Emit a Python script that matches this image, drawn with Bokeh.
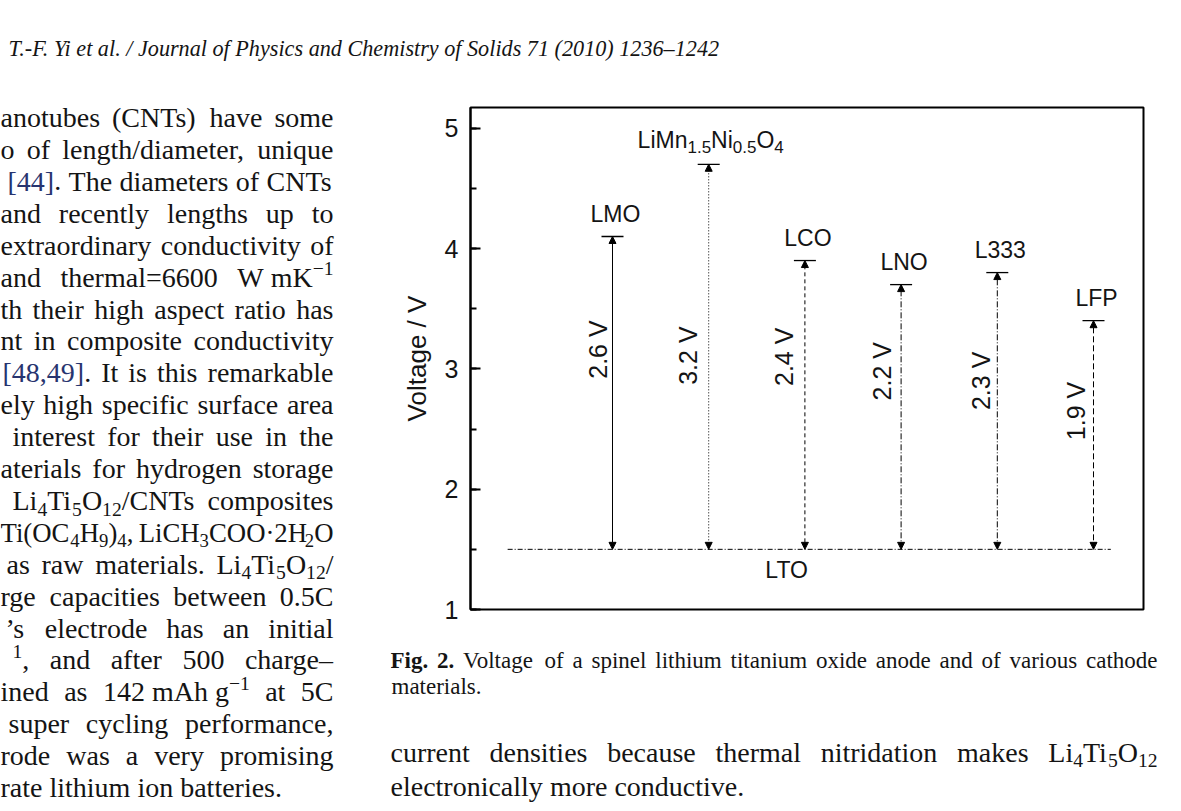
import math
import re
from collections import defaultdict
from bokeh.plotting import figure
from bokeh.layouts import column, row
from bokeh.models import Range1d, SingleIntervalTicker, Arrow, NormalHead
from bokeh.core.properties import value
from bokeh.embed import file_html
from bokeh.resources import INLINE

# ---------------- chart data ----------------
materials = ["LMO", "LiMn1.5Ni0.5O4", "LCO", "LNO", "L333", "LFP"]
cathode_voltage = [4.1, 4.7, 3.9, 3.7, 3.8, 3.4]
lto_voltage = 1.5
diff_label_voltage = [3.16, 3.11, 3.10, 2.98, 2.90, 2.65]
diff_label_dx = [-15, -21, -21, -19, -16, -18]
line_dashes = ["solid", "1 2", "4 3", "6 2 1 2", "6 2 1 2", "6 3"]
lto_extent = [-1.09, 5.18]
lto_label_pos = [1.81, 1.27]
y_ticks_interval = 1

positions = list(range(len(materials)))
diffs = [f"{v - lto_voltage:.1f} V" for v in cathode_voltage]

formula_parts = [("LiMn", "main"), ("1.5", "sub"), ("Ni", "main"),
                 ("0.5", "sub"), ("O", "main"), ("4", "sub")]

# ---------------- page text (markup: _{sub}, ^{sup}) ----------------
header = "T.-F. Yi et al. / Journal of Physics and Chemistry of Solids 71 (2010) 1236\u20131242"
NB = "\u00a0"
left_col = [
    (0, "anotubes (CNTs) have some"),
    (0, "o of length/diameter, unique"),
    (7, "[44]. The diameters of CNTs"),
    (0, "and recently lengths up to"),
    (0, "extraordinary conductivity of"),
    (0, "and thermal=6600 W" + NB + "mK^{\u22121}"),
    (0, "th their high aspect ratio has"),
    (0, "nt in composite conductivity"),
    (2, "[48,49]. It is this remarkable"),
    (0, "ely high specific surface area"),
    (12, "interest for their use in the"),
    (0, "aterials for hydrogen storage"),
    (12, "Li_{4}Ti_{5}O_{12}/CNTs composites"),
    (0, "Ti(OC_{4}H_{9})_{4}, LiCH_{3}COO\u00b72H_{2}O"),
    (6, "as raw materials. Li_{4}Ti_{5}O_{12}/"),
    (0, "rge capacities between 0.5C"),
    (5, "\u2019s electrode has an initial"),
    (12, "^{1}, and after 500 charge\u2013"),
    (0, "ined as 142" + NB + "mAh" + NB + "g^{\u22121} at 5C"),
    (8, "super cycling performance,"),
    (0, "rode was a very promising"),
    (0, "rate lithium ion batteries."),
]
caption_line1 = "Fig. 2. Voltage of a spinel lithium titanium oxide anode and of various cathode"
caption_bold_words = 2
caption_line2 = "materials."
body_line1 = "current densities because thermal nitridation makes Li_{4}Ti_{5}O_{12}"
body_line2 = "electronically more conductive."

SANS = "Liberation Sans"
SERIF = "Liberation Serif"
INK = "#141414"
BLUE = "#27346f"
BL = 0.3   # renderer places the alphabetic baseline this many ems below the anchor

# Times/Liberation Serif advance widths (per 1000 em)
TNR = {" ": 250, NB: 250, "(": 333, ")": 333, ",": 250, "-": 333, ".": 250,
       "/": 278, ":": 278, "=": 564, "[": 333, "]": 333, "\u00b7": 250,
       "\u2013": 500, "\u2019": 333, "\u2212": 564,
       "A": 722, "B": 667, "C": 667, "D": 722, "E": 611, "F": 556, "G": 722,
       "H": 722, "I": 333, "J": 389, "K": 722, "L": 611, "M": 889, "N": 722,
       "O": 722, "P": 556, "Q": 722, "R": 667, "S": 556, "T": 611, "U": 722,
       "V": 722, "W": 944, "X": 722, "Y": 722, "Z": 611,
       "a": 444, "b": 500, "c": 444, "d": 500, "e": 444, "f": 333, "g": 500,
       "h": 500, "i": 278, "j": 278, "k": 500, "l": 278, "m": 778, "n": 500,
       "o": 500, "p": 500, "q": 500, "r": 333, "s": 389, "t": 278, "u": 500,
       "v": 500, "w": 722, "x": 500, "y": 500, "z": 444}
for d in "0123456789":
    TNR[d] = 500
TNR_B = dict(TNR, F=611)
SCALE = {"n": 1.0, "ref": 1.0, "sub": 0.7, "sup": 0.7}
DY = {"n": 0.0, "ref": 0.0, "sub": 0.22, "sup": -0.40}
TOKEN = re.compile(r"_\{([^}]*)\}|\^\{([^}]*)\}|([^_^]+)")

# ---------------- page geometry ----------------
PAGE_W, PAGE_H = 1165, 808
HEAD_H = 99
LEFT_W = 390
CHART_H = 530
FRAME_L, FRAME_T, FRAME_W, FRAME_H = 80, 8, 673, 502
PX_PER_V = 120.33
PX_PER_X = 96.2
FIRST_X_PX = 142
XA = -FIRST_X_PX / PX_PER_X
XB = XA + FRAME_W / PX_PER_X
YA = 1.0
YB = YA + FRAME_H / PX_PER_V


def text_fig(w, h, x0, y0):
    f = figure(width=w, height=h, x_range=Range1d(x0, x0 + w), y_range=Range1d(y0 + h, y0),
               output_backend="svg", toolbar_location=None,
               x_axis_type=None, y_axis_type=None, min_border=0)
    f.grid.grid_line_color = None
    f.outline_line_color = None
    f.background_fill_color = "white"
    f.border_fill_color = "white"
    return f


batches = defaultdict(lambda: {"x": [], "y": [], "text": []})
fig_of = {}


def segments(word):
    out = []
    for m in TOKEN.finditer(word):
        if m.group(1) is not None:
            out.append((m.group(1), "sub"))
        elif m.group(2) is not None:
            out.append((m.group(2), "sup"))
        else:
            for piece in re.split(r"(\[[\d,]+\])", m.group(3)):
                if piece:
                    out.append((piece, "ref" if piece.startswith("[") else "n"))
    return out


def seg_w(txt, size, table):
    return sum(table.get(c, 500) for c in txt) / 1000 * size


def word_w(word, size, style="normal"):
    table = TNR_B if style == "bold" else TNR
    return sum(seg_w(t, size * SCALE[k], table) for t, k in segments(word))


def draw_word(f, word, x, y, size, style="normal", font=SERIF):
    table = TNR_B if style == "bold" else TNR
    for t, k in segments(word):
        s = size * SCALE[k]
        color = BLUE if k == "ref" else INK
        key = (id(f), round(s, 2), style, color, font)
        fig_of[key] = f
        b = batches[key]
        b["x"].append(x)
        b["y"].append(y + DY[k] * size - BL * s)
        b["text"].append(t)
        x += seg_w(t, s, table)
    return x


def justify(f, words, left, right, y, size, styles=None):
    styles = styles or ["normal"] * len(words)
    n_gaps = max(len(words) - 1, 1)
    natural = sum(word_w(w, size, s) for w, s in zip(words, styles))
    need = natural + 0.2 * size * n_gaps
    if need > right - left:
        size *= (right - left) / need
    widths = [word_w(w, size, s) for w, s in zip(words, styles)]
    gap = (right - left - sum(widths)) / n_gaps
    x = left
    for w, s, wd in zip(words, styles, widths):
        draw_word(f, w, x, y, size, s)
        x += wd + gap


def plain(f, line, left, y, size):
    x = left
    for w in line.split(" "):
        x = draw_word(f, w, x, y, size) + TNR[" "] / 1000 * size


# header
head = text_fig(PAGE_W, HEAD_H, 0, 0)
draw_word(head, header, 8, 55, 22.2, style="italic")

# left column
left = text_fig(LEFT_W, PAGE_H - HEAD_H, 0, HEAD_H)
for j, (lx, line) in enumerate(left_col):
    base = 125.5 + 31.9 * j
    if j == len(left_col) - 1:
        plain(left, line, lx, base, 28)
    else:
        justify(left, line.split(" "), lx, 333, base, 28)

# ---------------- chart ----------------
p = figure(width=PAGE_W - LEFT_W, height=CHART_H,
           x_range=Range1d(XA, XB), y_range=Range1d(YA, YB),
           output_backend="svg", toolbar_location=None, x_axis_type=None,
           min_border_left=FRAME_L, min_border_right=PAGE_W - LEFT_W - FRAME_L - FRAME_W,
           min_border_top=FRAME_T, min_border_bottom=CHART_H - FRAME_T - FRAME_H)
p.grid.grid_line_color = None
p.background_fill_color = "white"
p.border_fill_color = "white"
p.outline_line_color = "black"
p.outline_line_width = 2

ax = p.yaxis[0]
ax.ticker = SingleIntervalTicker(interval=y_ticks_interval, num_minor_ticks=2)
ax.axis_label = "Voltage / V"
ax.axis_label_text_font = SANS
ax.axis_label_text_font_size = "26px"
ax.axis_label_text_font_style = "normal"
ax.axis_label_text_color = INK
ax.axis_label_standoff = 10
ax.major_label_text_font = SANS
ax.major_label_text_font_size = "25px"
ax.major_label_text_color = INK
ax.major_label_standoff = 12
ax.axis_line_width = 2
ax.major_tick_in = 10
ax.major_tick_out = 0
ax.minor_tick_in = 6
ax.minor_tick_out = 0
ax.major_tick_line_width = 2
ax.minor_tick_line_width = 2

p.line(lto_extent, [lto_voltage, lto_voltage], line_color="black",
       line_width=1, line_dash="5 2 1 2")

for i in positions:
    head_s = NormalHead(size=7, fill_color="black", line_color="black", line_width=1)
    head_e = NormalHead(size=7, fill_color="black", line_color="black", line_width=1)
    p.add_layout(Arrow(start=head_s, end=head_e,
                       x_start=positions[i], y_start=lto_voltage,
                       x_end=positions[i], y_end=cathode_voltage[i],
                       line_color="black", line_width=1, line_dash=line_dashes[i]))

p.scatter(positions, cathode_voltage, marker="dash", size=22,
          line_color="black", line_width=1.3)

LABEL_PX = 23
simple = [i for i in positions if materials[i] != "LiMn1.5Ni0.5O4"]
p.text([positions[i] for i in simple], [cathode_voltage[i] for i in simple],
       [materials[i] for i in simple], text_font=value(SANS),
       text_font_size=f"{LABEL_PX}px", text_color=INK, text_align="center",
       text_baseline="alphabetic", x_offset=3, y_offset=-16 - BL * LABEL_PX)

ARIAL = {"L": 556, "i": 222, "M": 833, "n": 556, "N": 722, "O": 778,
         "0": 556, "1": 556, "4": 556, "5": 556, ".": 278}
SIZE = {"main": 23, "sub": 17}
YOFF = {"main": -17, "sub": -12}
k = materials.index("LiMn1.5Ni0.5O4")
widths = [sum(ARIAL[c] for c in t) / 1000 * SIZE[s] for t, s in formula_parts]
cur = 2 - sum(widths) / 2
for (t, s), w in zip(formula_parts, widths):
    p.text([positions[k]], [cathode_voltage[k]], [t], text_font=value(SANS),
           text_font_size=f"{SIZE[s]}px", text_color=INK, text_align="left",
           text_baseline="alphabetic", x_offset=cur,
           y_offset=YOFF[s] - BL * SIZE[s])
    cur += w

p.text(positions, diff_label_voltage, diffs, angle=math.pi / 2,
       text_font=value(SANS), text_font_size="25px", text_color=INK,
       text_align="center", text_baseline="alphabetic", x_offset=diff_label_dx)

p.text([lto_label_pos[0]], [lto_label_pos[1]], ["LTO"], text_font=value(SANS),
       text_font_size=f"{LABEL_PX}px", text_color=INK, text_align="center",
       text_baseline="alphabetic", y_offset=-BL * LABEL_PX)

# ---------------- caption + body under the chart ----------------
BOT_TOP = HEAD_H + CHART_H
bottom = text_fig(PAGE_W - LEFT_W, PAGE_H - BOT_TOP, LEFT_W, BOT_TOP)
cap_words = caption_line1.split(" ")
cap_styles = ["bold" if n < caption_bold_words else "normal" for n in range(len(cap_words))]
justify(bottom, cap_words, 390, 1157, 667, 23, cap_styles)
plain(bottom, caption_line2, 391, 693, 23)
justify(bottom, body_line1.split(" "), 390, 1157, 760, 28)
plain(bottom, body_line2, 390, 794, 28)

# flush text batches
for key, b in batches.items():
    _, size, style, color, font = key
    fig_of[key].text(b["x"], b["y"], b["text"], text_font=value(font),
                     text_font_size=f"{size}px", text_font_style=style,
                     text_color=color, text_align="left", text_baseline="alphabetic")

layout = column(head, row(left, column(p, column(bottom))))
open("out.html", "w").write(file_html(layout, INLINE))
